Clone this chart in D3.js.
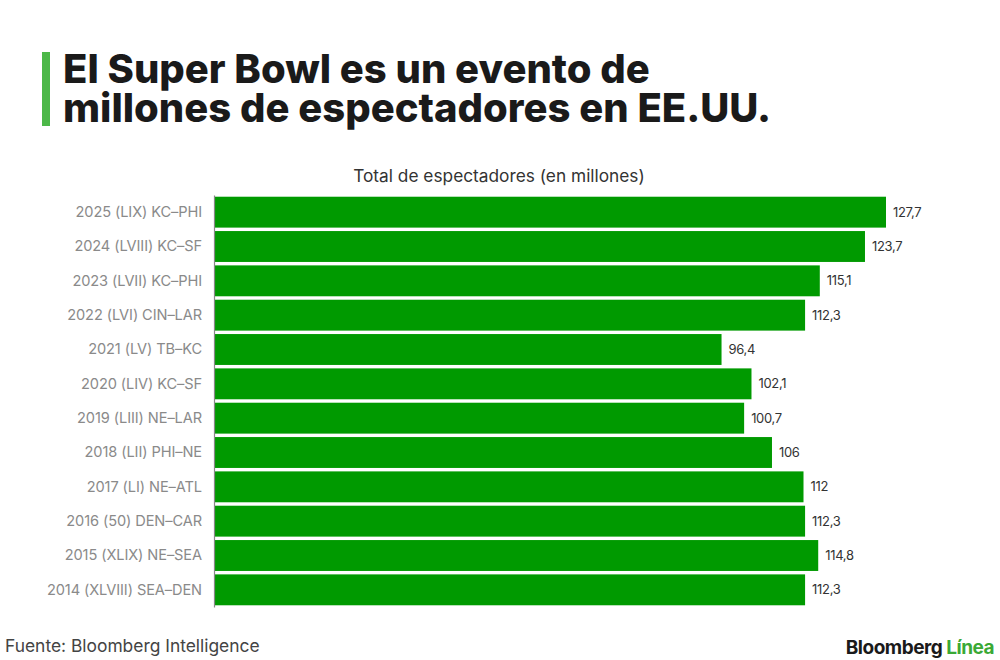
<!DOCTYPE html>
<html>
<head>
<meta charset="utf-8">
<script src="https://cdn.jsdelivr.net/npm/d3@7"></script>
<style>
  body { margin: 0; background: #fff; }
  svg { display: block; font-family: Inter, "Noto Sans", sans-serif; }
</style>
</head>
<body>
<div id="chart"></div>
<script>
// Super Bowl viewers, millions
var games = ["2025 (LIX) KC\u2013PHI", "2024 (LVIII) KC\u2013SF", "2023 (LVII) KC\u2013PHI", "2022 (LVI) CIN\u2013LAR",
  "2021 (LV) TB\u2013KC", "2020 (LIV) KC\u2013SF", "2019 (LIII) NE\u2013LAR", "2018 (LII) PHI\u2013NE",
  "2017 (LI) NE\u2013ATL", "2016 (50) DEN\u2013CAR", "2015 (XLIX) NE\u2013SEA", "2014 (XLVIII) SEA\u2013DEN"];
var viewers = [127.7, 123.7, 115.1, 112.3, 96.4, 102.1, 100.7, 106, 112, 112.3, 114.8, 112.3];

var width = 1000, height = 660;
var margin = {top: 195, left: 215, bottom: 48, right: 114}; // space for labels round the bars

var svg = d3.select('#chart').append("svg")
    .attr("width", width)
    .attr("height", height);

// title with the green marker
svg.append("rect")
    .attr("x", 42).attr("y", 52)
    .attr("width", 8).attr("height", 74)
    .attr("fill", "#4cb848");

var titleLines = ["El Super Bowl es un evento de", "millones de espectadores en EE.UU."];
svg.selectAll("text.title")
    .data(titleLines)
    .enter().append("text")
    .attr("class", "title")
    .attr("x", 63)
    .attr("y", function (d, i) { return 83 + i * 39; })
    .attr("font-size", 40)
    .attr("font-weight", 800)
    .attr("fill", "#1a1a1a")
    .text(function (d) { return d; });

svg.append("text")
    .attr("x", 499).attr("y", 182)
    .attr("text-anchor", "middle")
    .attr("font-size", 17.3)
    .attr("fill", "#333")
    .text("Total de espectadores (en millones)");

var x = d3.scaleLinear()
    .domain([0, 127.7])
    .range([margin.left, width - margin.right]);

var y = d3.scaleBand()
    .domain(games)
    .range([margin.top, height - margin.bottom - 5])
    .paddingInner(0.1)
    .paddingOuter(0.05);

var rows = games.map(function (g, i) { return {game: g, value: viewers[i]}; });

svg.selectAll("rect.bar")
    .data(rows)
    .enter().append("rect")
    .attr("class", "bar")
    .attr("x", x(0))
    .attr("y", function (d) { return y(d.game); })
    .attr("width", function (d) { return x(d.value) - x(0); })
    .attr("height", y.bandwidth())
    .attr("fill", "#009a00");

// category labels via axis
var yAxis = svg.append("g")
    .attr("transform", "translate(" + (x(0) - 1) + ",0)")
    .call(d3.axisLeft(y).tickSize(0).tickPadding(12));
yAxis.select(".domain").attr("stroke", "#888").attr("stroke-width", 1.2);
yAxis.selectAll("text")
    .attr("font-size", 14.6)
    .attr("font-family", "Inter, 'Noto Sans', sans-serif")
    .attr("letter-spacing", -0.1)
    .attr("fill", "#8a8a8a");

svg.selectAll("text.val")
    .data(rows)
    .enter().append("text")
    .attr("class", "val")
    .attr("x", function (d) { return x(d.value) + 7; })
    .attr("y", function (d) { return y(d.game) + y.bandwidth() / 2; })
    .attr("dy", "0.35em")
    .attr("font-size", 13)
    .attr("letter-spacing", -0.3)
    .attr("fill", "#333")
    .text(function (d) { return String(d.value).replace(".", ","); });

// footer
svg.append("text")
    .attr("x", 5).attr("y", 652)
    .attr("font-size", 17.4)
    .attr("fill", "#444")
    .text("Fuente: Bloomberg Intelligence");

var logo = svg.append("text")
    .attr("x", 994).attr("y", 654)
    .attr("text-anchor", "end")
    .attr("font-size", 19)
    .attr("font-weight", 700)
    .attr("letter-spacing", -0.5);
logo.append("tspan").attr("fill", "#1a1a1a").text("Bloomberg ");
logo.append("tspan").attr("fill", "#3aa935").text("L\u00ednea");
</script>
</body>
</html>
